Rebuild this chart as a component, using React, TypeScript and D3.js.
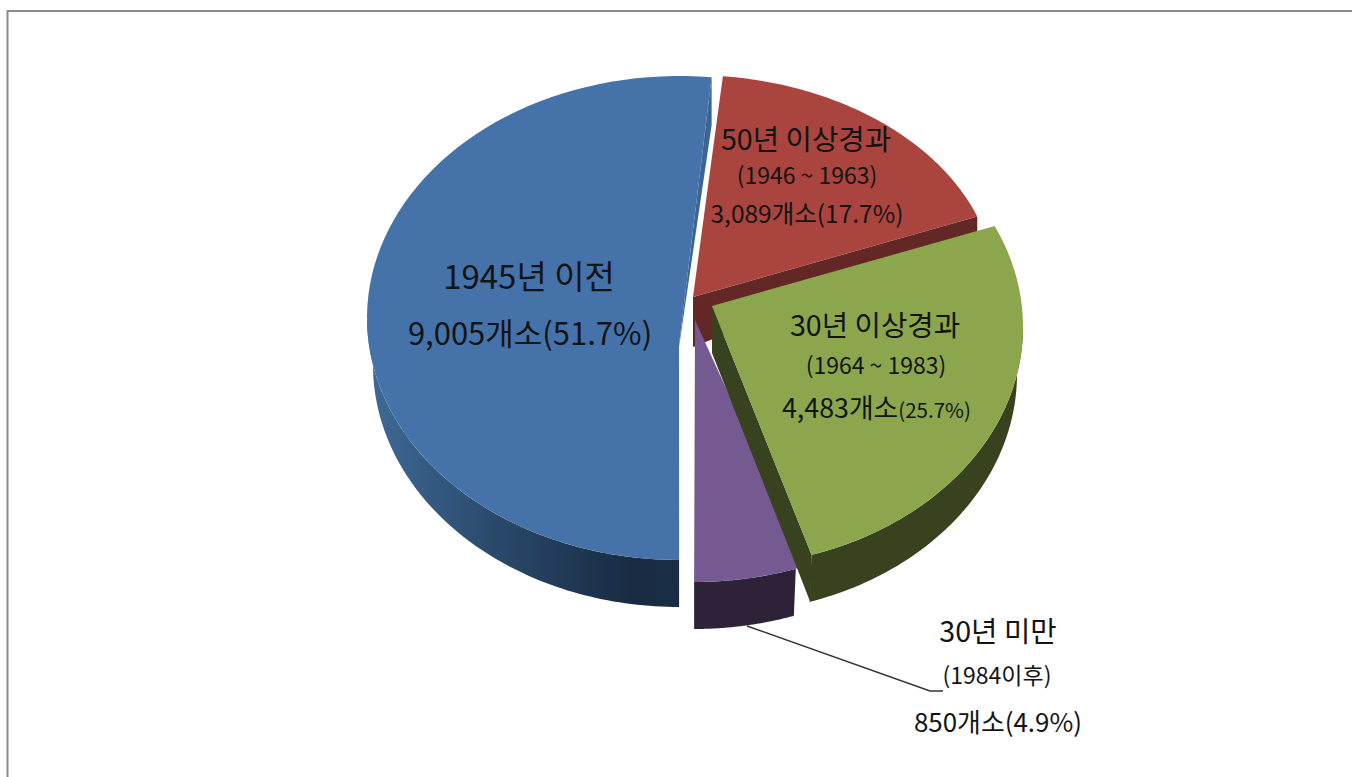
import React from "react";
import * as d3 from "d3";

const categories = ["50년 이상경과", "30년 이상경과", "30년 미만", "1945년 이전"];
const periods = ["(1946 ~ 1963)", "(1964 ~ 1983)", "(1984이후)", ""];
const counts = [3089, 4483, 850, 9005];
const percents = [17.7, 25.7, 4.9, 51.7];

const topColors = ["#A9443F", "#8BA64D", "#745A91", "#4573A9"];
const wallColors = ["#632825", "#39421E", "#2E2238", "url(#blueWall)"];

const FONT = "'Noto Sans CJK KR', 'Noto Sans', sans-serif";
const DEPTH = 47;
const WALL_INSET = 6;
const deg = Math.PI / 180;

// Each slice is drawn on its own ellipse, as the exploded perspective pie does.
const geometry = [
  { cx: 691, cy: 291, rx: 305, ry: 216, ax: 693, ay: 297, nudgeStart: 0, nudgeEnd: 0, wallNudge: 0 },
  { cx: 720, cy: 327, rx: 303, ry: 239, ax: 712, ay: 306, nudgeStart: -4.8, nudgeEnd: 0, wallNudge: 0 },
  { cx: 694, cy: 340, rx: 313, ry: 242, ax: 695, ay: 320, nudgeStart: -3.5, nudgeEnd: 0, wallNudge: 2.1 },
  { cx: 679, cy: 318, rx: 312, ry: 242, ax: 679, ay: 345, nudgeStart: 0, nudgeEnd: 0, wallNudge: 0 },
];

const pieGen = d3.pie<number>().sort(null).startAngle(6 * deg).endAngle(366 * deg);
const slices = pieGen(counts);
const lineGen = d3.line<[number, number]>();

function arcPoints(i: number, a0: number, a1: number, dy = 0, inset = 0): [number, number][] {
  const g = geometry[i];
  return d3.range(0, 81).map((k) => {
    const t = a0 + ((a1 - a0) * k) / 80;
    return [g.cx + (g.rx - inset) * Math.sin(t), g.cy - g.ry * Math.cos(t) + dy] as [number, number];
  });
}

function range(i: number) {
  const g = geometry[i];
  return [slices[i].startAngle + g.nudgeStart * deg, slices[i].endAngle + g.nudgeEnd * deg];
}

function topPath(i: number) {
  const g = geometry[i];
  const [a0, a1] = range(i);
  return lineGen([[g.ax, g.ay], ...arcPoints(i, a0, a1)]) + "Z";
}

function outerWall(i: number) {
  const [a0, a1] = range(i);
  const from = Math.max(a0 + geometry[i].wallNudge * deg, 90 * deg);
  const to = Math.min(a1, 270 * deg);
  if (to <= from) return "";
  return lineGen([...arcPoints(i, from, to), ...arcPoints(i, from, to, DEPTH, WALL_INSET).reverse()]) + "Z";
}

function cutWalls(i: number): string {
  const g = geometry[i];
  const [a0, a1] = range(i);
  if (i === 0) {
    const e = arcPoints(i, a1, a1)[0];
    return lineGen([[g.ax, g.ay], e, [e[0], e[1] + 16], [g.ax, g.ay + 50]]) + "Z";
  }
  if (i === 1) {
    const e = arcPoints(i, a0, a1).at(-1)!;
    return lineGen([[g.ax, g.ay], e, [e[0] - 1, e[1] + 48], [e[0] - 15, e[1] + 12], [g.ax, g.ay + 47]]) + "Z";
  }
  if (i === 3) {
    const e = arcPoints(i, a1, a1)[0];
    return lineGen([[g.ax, g.ay], e, [e[0], e[1] + 48], [g.ax, g.ay + 2]]) + "Z";
  }
  return "";
}

const money = d3.format(",");
const countLabel = (i: number) => `${money(counts[i])}개소(${percents[i]}%)`;

export default function App() {
  return (
    <svg
      width={1352}
      height={777}
      viewBox="0 0 1352 777"
      style={{ position: "absolute", left: 0, top: 0, display: "block", background: "#fff" }}
      fontFamily={FONT}
    >
      <defs>
        <linearGradient id="blueWall" gradientUnits="userSpaceOnUse" x1={367} x2={680} y1={0} y2={0}>
          <stop offset="0" stopColor="#3F6A97" />
          <stop offset="0.4" stopColor="#2A4A6C" />
          <stop offset="0.85" stopColor="#182B42" />
          <stop offset="1" stopColor="#1A2E47" />
        </linearGradient>
      </defs>
      <path d="M7.5 777V11H1352" fill="none" stroke="#8C8C8C" strokeWidth={2} />

      {/* blue */}
      <path d={outerWall(3)} fill={wallColors[3]} />
      <path d={cutWalls(3)} fill="#3A6595" />
      <path d={topPath(3)} fill={topColors[3]} />
      {/* red */}
      <path d={cutWalls(0)} fill={wallColors[0]} />
      <path d={topPath(0)} fill={topColors[0]} />
      {/* purple */}
      <path d={outerWall(2)} fill={wallColors[2]} />
      <path d={topPath(2)} fill={topColors[2]} />
      {/* green */}
      <path d={outerWall(1)} fill={wallColors[1]} />
      <path d={cutWalls(1)} fill={wallColors[1]} />
      <path d={topPath(1)} fill={topColors[1]} />

      <path d="M747 626L930 691H943" fill="none" stroke="#333" strokeWidth={1.4} />

      <g fill="#141414" textAnchor="middle">
        <text x={529} y={289} fontSize={33}>{categories[3]}</text>
        <text x={530} y={345} fontSize={31}>{countLabel(3)}</text>

        <text x={806} y={150} fontSize={28.7}>{categories[0]}</text>
        <text x={807} y={184} fontSize={23}>{periods[0]}</text>
        <text x={807} y={223} fontSize={24.5}>{countLabel(0)}</text>

        <text x={875} y={336} fontSize={28.7}>{categories[1]}</text>
        <text x={876} y={374} fontSize={23}>{periods[1]}</text>
        <text x={782} y={418} fontSize={26.8} textAnchor="start">
          {`${money(counts[1])}개소`}
          <tspan fontSize={20.5}>{`(${percents[1]}%)`}</tspan>
        </text>

        <text x={998} y={642} fontSize={28.7}>{categories[2]}</text>
        <text x={997} y={684} fontSize={23}>{periods[2]}</text>
        <text x={998} y={732} fontSize={25.9}>{countLabel(2)}</text>
      </g>
    </svg>
  );
}
